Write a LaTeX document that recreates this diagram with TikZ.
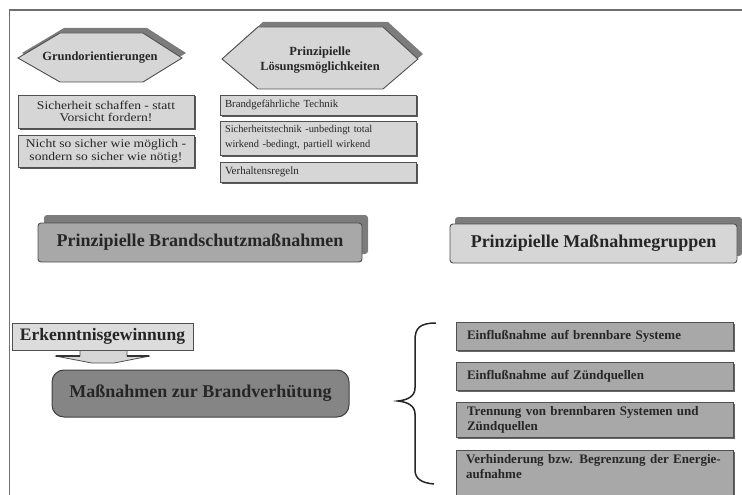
\documentclass[tikz,border=0pt]{standalone}
\usepackage{fontspec}
\setmainfont{Liberation Serif}
\newfontfamily\wideserif[FakeStretch=1.15]{Liberation Serif}
\usetikzlibrary{shadows}
\definecolor{framegray}{HTML}{707070}
\definecolor{hexfill}{HTML}{D6D6D6}
\definecolor{hexshadow}{HTML}{7C7C7C}
\definecolor{lightbox}{HTML}{D6D6D6}
\definecolor{midbox}{HTML}{A8A8A8}
\definecolor{darkbox}{HTML}{858585}
\definecolor{ink}{HTML}{262626}
\definecolor{edge}{HTML}{505050}
\begin{document}
\begin{tikzpicture}[x=1pt,y=-1pt,
  txt/.style={inner sep=0pt, text=ink, align=center},
  hexshape/.style={draw=edge, line width=0.9pt, fill=hexfill},
  topbox/.style={draw=edge, line width=0.9pt, fill=lightbox, inner sep=0pt, text=ink,
      drop shadow={shadow xshift=1.5pt, shadow yshift=-1.5pt, fill=black!65, opacity=1}},
  bigbox/.style={draw=edge, line width=0.9pt, rounded corners=3pt, inner sep=0pt, text=ink,
      font=\bfseries\fontsize{18}{20}\selectfont},
  grpbox/.style={draw=edge, line width=0.8pt, fill=midbox, inner ysep=0pt, inner xsep=11pt,
      text=ink, text width=255pt, align=left, minimum width=277pt,
      font=\bfseries\fontsize{13}{15}\selectfont,
      drop shadow={shadow xshift=2pt, shadow yshift=-2pt, fill=black!60, opacity=1}},
]
\useasboundingbox (0,0) rectangle (742,495);
\clip (0,0) rectangle (742,495);

% frame
\draw[framegray, line width=1.6pt] (9.5,495) -- (9.5,10) -- (742,10);

% hexagon 1
\fill[hexshadow] (22,53) -- (64,28) -- (147,28) -- (186,53) -- (147,77) -- (64,77) -- cycle;
\draw[hexshape] (18,58) -- (60,33) -- (143,33) -- (182,58) -- (143,82) -- (60,82) -- cycle;
\node[txt, font=\bfseries\fontsize{12.5}{14}\selectfont] (grund) at (100,58) {Grundorientierungen};

% hexagon 2
\fill[hexshadow] (227,54) -- (263,22) -- (388,22) -- (423,54) -- (388,84) -- (263,84) -- cycle;
\draw[hexshape] (222,59) -- (258,27) -- (383,27) -- (418,59) -- (383,89) -- (258,89) -- cycle;
\node[txt, font=\bfseries\fontsize{12.5}{15}\selectfont] (loesung) at (320,60) {Prinzipielle\\Lösungsmöglichkeiten};

% top-left boxes
\node[topbox, minimum width=176pt, minimum height=33pt, align=center,
      font=\wideserif\fontsize{11.8}{12.5}\selectfont] (sich) at (106,111.5)
      {Sicherheit schaffen - statt\\Vorsicht fordern!};
\node[topbox, minimum width=176pt, minimum height=32pt, align=center,
      font=\wideserif\fontsize{11.8}{12.5}\selectfont] (nicht) at (106,151)
      {Nicht so sicher wie möglich -\\sondern so sicher wie nötig!};

% top-right boxes
\node[topbox, minimum width=196pt, minimum height=20pt, text width=186pt, inner xsep=5pt, align=left,
      font=\fontsize{10.8}{12}\selectfont] (brand) at (318,105) {Brandgefährliche Technik};
\node[topbox, minimum width=196pt, minimum height=34pt, text width=186pt, inner xsep=5pt, align=left,
      font=\fontsize{10.4}{15}\selectfont] (stech) at (318,138)
      {Sicherheitstechnik -unbedingt total\\wirkend -bedingt, partiell wirkend};
\node[topbox, minimum width=196pt, minimum height=20pt, text width=186pt, inner xsep=5pt, align=left,
      font=\fontsize{11}{12}\selectfont] (verh) at (318,172) {Verhaltensregeln};

% middle boxes
\node[bigbox, fill=midbox, minimum width=324pt, minimum height=39pt,
      drop shadow={shadow xshift=6pt, shadow yshift=8pt, fill=hexshadow, opacity=1}]
      (pbm) at (200,242.5) {Prinzipielle Brandschutzmaßnahmen};
\node[bigbox, fill=lightbox, minimum width=287pt, minimum height=39pt,
      drop shadow={shadow xshift=5pt, shadow yshift=7pt, fill=hexshadow, opacity=1}]
      (pmg) at (593.5,243.5) {Prinzipielle Maßnahmegruppen};

% Erkenntnisgewinnung with block arrow
\draw[edge, fill=lightbox, line width=0.8pt] (80,349) -- (80,356) -- (55,356) -- (92,363)
   -- (114,363) -- (150,356) -- (127,356) -- (127,349);
\draw[black!80, line width=1.4pt] (56,356) -- (80,356) (127,356) -- (149,356);
\node[draw=edge, line width=0.9pt, fill=lightbox!85!white, minimum width=181pt, minimum height=27pt,
      inner sep=0pt, text=ink, font=\bfseries\fontsize{17.5}{19}\selectfont]
      (erk) at (102.5,336.5) {Erkenntnisgewinnung};

% Massnahmen zur Brandverhuetung
\node[draw=black!75, line width=1pt, fill=darkbox, rounded corners=12pt, minimum width=297pt,
      minimum height=47pt, inner sep=0pt, text=black!85,
      font=\bfseries\fontsize{18}{20}\selectfont] (mzb) at (200.5,393.5)
      {Maßnahmen zur Brandverhütung};

% brace
\draw[black!85, line width=1.5pt] (436,323) .. controls (420,323) and (415,328) .. (415,340)
   -- (415,388) .. controls (415,396) and (408,400) .. (398,401)
   .. controls (408,402) and (415,406) .. (415,414)
   -- (415,470) .. controls (415,479) and (422,483) .. (434,484);

% right group boxes
\node[grpbox, minimum height=28pt] (e1) at (594.5,336) {Einflußnahme auf brennbare Systeme};
\node[grpbox, minimum height=28pt] (e2) at (594.5,376) {Einflußnahme auf Zündquellen};
\node[grpbox, minimum height=35pt] (e3) at (594.5,419.5) {Trennung von brennbaren Systemen und\\Zündquellen};
\node[grpbox, minimum height=60pt] (e4) at (594.5,480) {};
\node[txt, anchor=north west, align=left, text width=260pt,
      font=\bfseries\fontsize{13}{15}\selectfont] (e4t) at (466,454)
      {Verhinderung bzw. Begrenzung der Energie-\\aufnahme};
\end{tikzpicture}
\end{document}
